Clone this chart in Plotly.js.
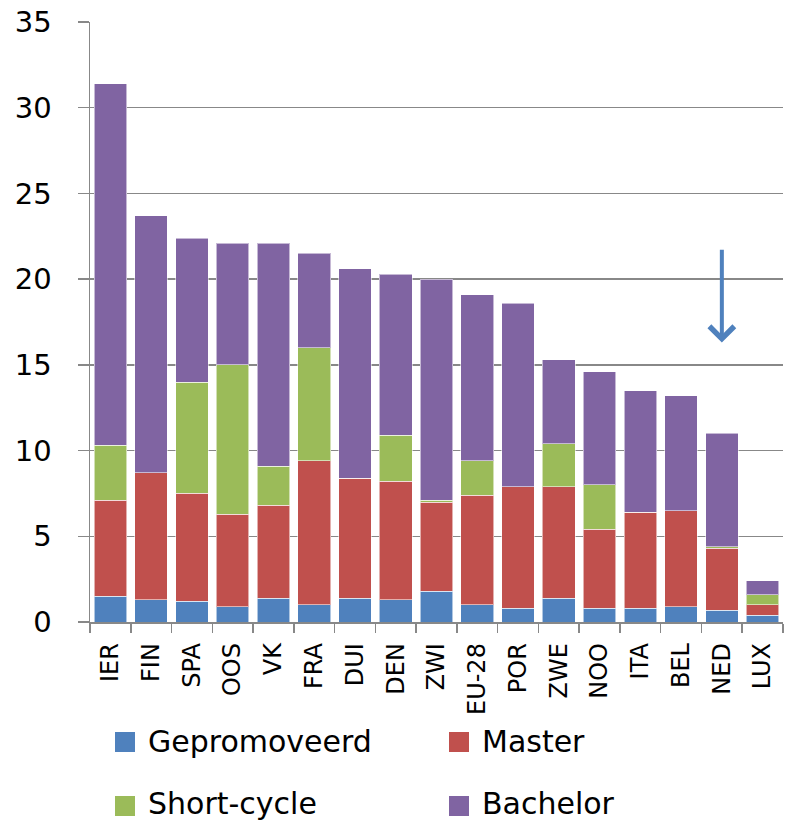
<!DOCTYPE html>
<html>
<head>
<meta charset="utf-8">
<script src="https://cdn.plot.ly/plotly-3.0.1.min.js"></script>
<style>
  html, body { margin: 0; padding: 0; background: #ffffff; }
  #chart { width: 792px; height: 822px; }
</style>
</head>
<body>
<div id="chart"></div>
<script>
// ---- data ----
const categories = ['IER','FIN','SPA','OOS','VK','FRA','DUI','DEN','ZWI','EU-28','POR','ZWE','NOO','ITA','BEL','NED','LUX'];
const gepromoveerd = [1.5, 1.3, 1.2, 0.9, 1.4, 1.0, 1.4, 1.3, 1.8, 1.0, 0.8, 1.4, 0.8, 0.8, 0.9, 0.7, 0.4];
const master       = [5.6, 7.4, 6.3, 5.4, 5.4, 8.4, 7.0, 6.9, 5.2, 6.4, 7.1, 6.5, 4.6, 5.6, 5.6, 3.6, 0.6];
const shortCycle   = [3.2, 0.0, 6.5, 8.7, 2.3, 6.6, 0.0, 2.7, 0.1, 2.0, 0.0, 2.5, 2.6, 0.0, 0.0, 0.1, 0.6];
const bachelor     = [21.1, 15.0, 8.4, 7.1, 13.0, 5.5, 12.2, 9.4, 12.9, 9.7, 10.7, 4.9, 6.6, 7.1, 6.7, 6.6, 0.8];
const seriesNames  = ['Gepromoveerd', 'Master', 'Short-cycle', 'Bachelor'];
const yTicks       = [0, 5, 10, 15, 20, 25, 30, 35];
const arrowCategory = 'NED';
const arrowFrom = 21.8, arrowTo = 16.3;

// ---- styles ----
const colors = ['#4F81BD', '#C0504D', '#9BBB59', '#8064A2'];
const seriesValues = [gepromoveerd, master, shortCycle, bachelor];

const W = 792, H = 822;
const M = {l: 90, r: 9, t: 22, b: 200};
const pw = W - M.l - M.r, ph = H - M.t - M.b;
const px = v => (v - M.l) / pw;      // pixel -> paper x
const py = v => (H - M.b - v) / ph;  // pixel -> paper y

const traces = seriesNames.map((name, i) => ({
  type: 'bar',
  name: name,
  x: categories,
  y: seriesValues[i],
  marker: {color: colors[i], line: {color: 'rgba(255,255,255,0.55)', width: 1}},
  showlegend: false,
  hoverinfo: 'x+y+name'
}));

// custom legend (2 x 2)
const legendPos = [
  {sx: 115, sy: 732, tx: 146, ty: 741},
  {sx: 449, sy: 732, tx: 480, ty: 741},
  {sx: 115, sy: 796, tx: 146, ty: 803},
  {sx: 449, sy: 796, tx: 480, ty: 803}
];
const shapes = [];
const annotations = [];
seriesNames.forEach((name, i) => {
  const p = legendPos[i];
  shapes.push({
    type: 'rect', xref: 'paper', yref: 'paper',
    x0: px(p.sx), x1: px(p.sx + 20), y0: py(p.sy), y1: py(p.sy + 20),
    fillcolor: colors[i], line: {width: 0}
  });
  annotations.push({
    xref: 'paper', yref: 'paper', x: px(p.tx), y: py(p.ty),
    xanchor: 'left', yanchor: 'middle', showarrow: false,
    text: name,
    font: {family: 'DejaVu Sans, sans-serif', size: 30, color: '#000000'}
  });
});

// arrow
annotations.push({
  xref: 'x', yref: 'y', axref: 'x', ayref: 'y',
  x: arrowCategory, y: arrowTo, ax: arrowCategory, ay: arrowFrom,
  text: '', showarrow: true, arrowhead: 4, arrowsize: 1.2, arrowwidth: 4,
  arrowcolor: '#4F81BD'
});

const layout = {
  width: W, height: H,
  margin: M,
  paper_bgcolor: '#ffffff',
  plot_bgcolor: '#ffffff',
  barmode: 'stack',
  bargap: 0.2,
  font: {family: 'DejaVu Sans, sans-serif', color: '#000000'},
  xaxis: {
    type: 'category',
    tickangle: -90,
    tickson: 'boundaries',
    ticks: 'outside', ticklen: 9, tickcolor: '#888888', tickwidth: 1.5,
    showline: true, linecolor: '#888888', linewidth: 1.5,
    showgrid: false, zeroline: false,
    ticklabelstandoff: 10,
    tickfont: {family: 'DejaVu Sans, sans-serif', size: 24, color: '#000000'}
  },
  yaxis: {
    range: [0, 35],
    tickvals: yTicks,
    ticktext: yTicks.map(String),
    ticks: 'outside', ticklen: 11, tickcolor: '#888888', tickwidth: 1.5,
    showline: true, linecolor: '#888888', linewidth: 1.5,
    showgrid: true, gridcolor: '#888888', gridwidth: 1.5,
    zeroline: false,
    ticklabelstandoff: 20,
    tickfont: {family: 'DejaVu Sans, sans-serif', size: 29, color: '#000000'}
  },
  shapes: shapes,
  annotations: annotations
};

Plotly.newPlot('chart', traces, layout, {staticPlot: true, displayModeBar: false});
</script>
</body>
</html>
